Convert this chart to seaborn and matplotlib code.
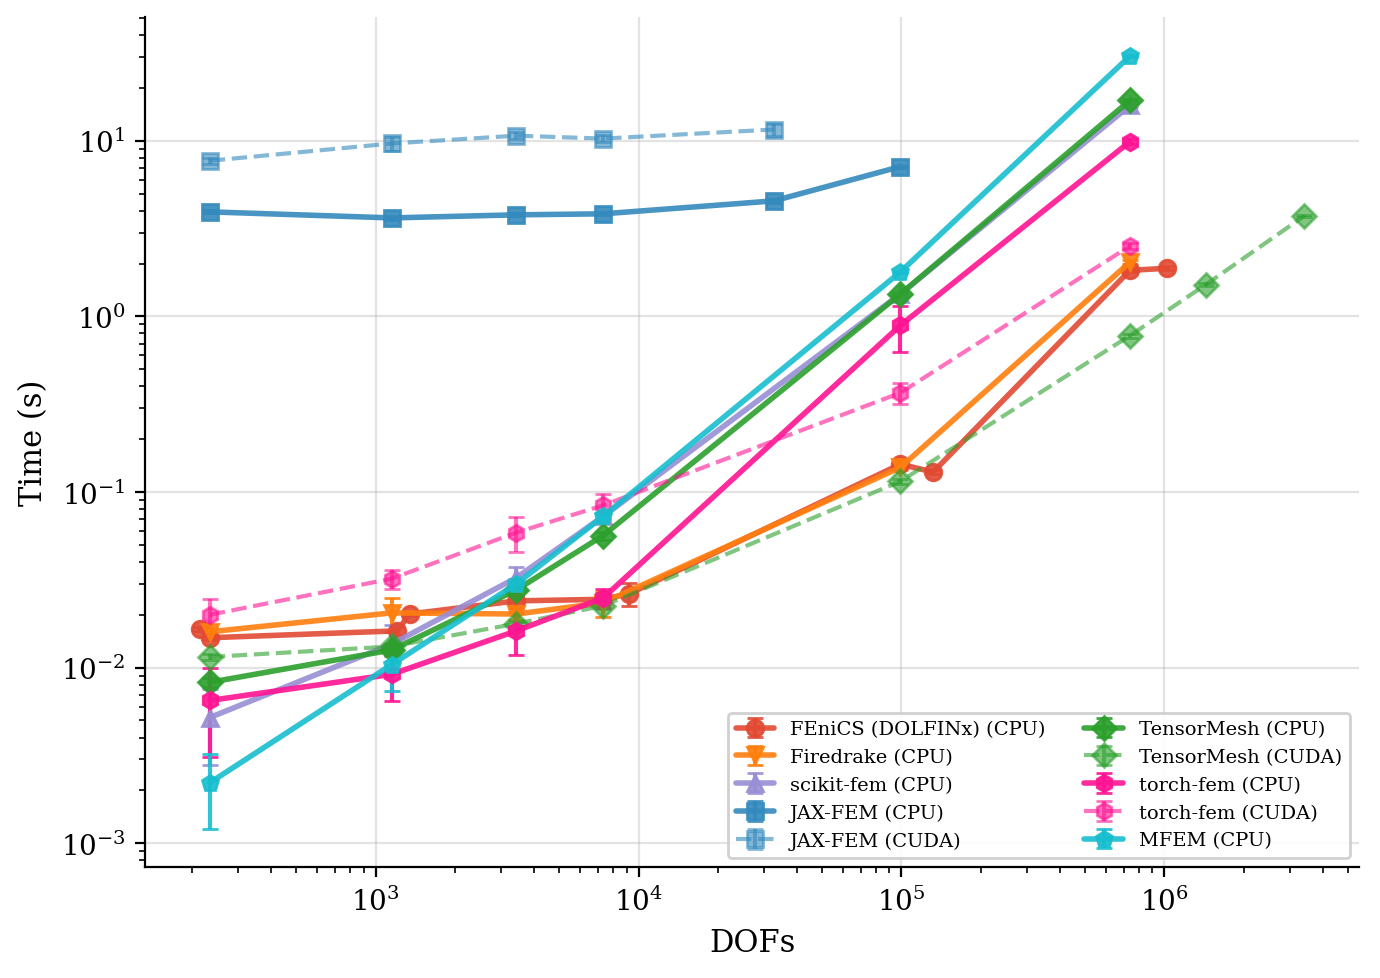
import numpy as np
import matplotlib
matplotlib.use('Agg')
import matplotlib.pyplot as plt
import seaborn as sns

# DOFs / timings
fenics_x = [215, 234, 1210, 1346, 3430, 7330, 9200, 99000, 132000, 740000, 1020000]
fenics_y = [0.0166, 0.0148, 0.0162, 0.0202, 0.0240, 0.0245, 0.0263, 0.144, 0.130, 1.83, 1.88]
fenics_e = [0.0005, 0.0005, 0.0008, 0.0005, 0.002, 0.002, 0.004, 0.006, 0.004, 0.05, 0.05]

common_x = [234, 1150, 3430, 7330, 99000, 740000]

firedrake_y = [0.0160, 0.0205, 0.0202, 0.0234, 0.138, 2.04]
firedrake_e = [0.0008, 0.0045, 0.0015, 0.004, 0.005, 0.05]

skfem_y = [0.0052, 0.0136, 0.0325, 0.0726, 1.34, 15.9]
skfem_e = [0.0024, 0.004, 0.005, 0.003, 0.03, 0.3]

jax_x = [234, 1150, 3430, 7330, 32700, 99000]
jax_cpu_y = [3.94, 3.64, 3.79, 3.84, 4.55, 7.13]
jax_cpu_e = [0.08, 0.08, 0.08, 0.08, 0.1, 0.1]
jax_cuda_x = [234, 1150, 3430, 7330, 32700]
jax_cuda_y = [7.7, 9.66, 10.7, 10.3, 11.6]
jax_cuda_e = [0.3, 0.9, 0.5, 0.5, 0.9]

tm_cpu_y = [0.00825, 0.0126, 0.0277, 0.0565, 1.34, 17.0]
tm_cpu_e = [0.0005, 0.001, 0.002, 0.003, 0.02, 0.2]
tm_cuda_x = [234, 1150, 3430, 7330, 99000, 740000, 1440000, 3400000]
tm_cuda_y = [0.0115, 0.0132, 0.0178, 0.0225, 0.115, 0.778, 1.52, 3.73]
tm_cuda_e = [0.0005, 0.0005, 0.0005, 0.001, 0.004, 0.02, 0.03, 0.05]

torch_cpu_y = [0.0065, 0.00916, 0.0162, 0.0249, 0.888, 9.9]
torch_cpu_e = [0.0034, 0.0027, 0.0044, 0.003, 0.26, 0.3]
torch_cuda_y = [0.0200, 0.0321, 0.0588, 0.084, 0.367, 2.52]
torch_cuda_e = [0.0046, 0.004, 0.013, 0.013, 0.05, 0.1]

mfem_y = [0.00221, 0.0104, 0.030, 0.0726, 1.79, 30.4]
mfem_e = [0.001, 0.003, 0.002, 0.002, 0.03, 0.3]

sns.set_style('ticks')
plt.rcParams['font.family'] = ['DejaVu Serif']
plt.rcParams['mathtext.fontset'] = 'dejavuserif'
plt.rcParams['axes.edgecolor'] = 'black'
plt.rcParams['xtick.color'] = 'black'
plt.rcParams['ytick.color'] = 'black'
plt.rcParams['text.color'] = 'black'
plt.rcParams['axes.labelcolor'] = 'black'

fig, ax = plt.subplots(figsize=(6.9, 4.895), dpi=200)

series = [
    ('FEniCS (DOLFINx) (CPU)', fenics_x, fenics_y, fenics_e, '#E24A33', 'o', '-', 0.9),
    ('Firedrake (CPU)', common_x, firedrake_y, firedrake_e, '#ff7f0e', 'v', '-', 0.9),
    ('scikit-fem (CPU)', common_x, skfem_y, skfem_e, '#988ED5', '^', '-', 0.9),
    ('JAX-FEM (CPU)', jax_x, jax_cpu_y, jax_cpu_e, '#348ABD', 's', '-', 0.9),
    ('JAX-FEM (CUDA)', jax_cuda_x, jax_cuda_y, jax_cuda_e, '#348ABD', 's', '--', 0.6),
    ('TensorMesh (CPU)', common_x, tm_cpu_y, tm_cpu_e, '#2ca02c', 'D', '-', 0.9),
    ('TensorMesh (CUDA)', tm_cuda_x, tm_cuda_y, tm_cuda_e, '#2ca02c', 'D', '--', 0.6),
    ('torch-fem (CPU)', common_x, torch_cpu_y, torch_cpu_e, '#ff1493', 'h', '-', 0.9),
    ('torch-fem (CUDA)', common_x, torch_cuda_y, torch_cuda_e, '#ff1493', 'h', '--', 0.6),
    ('MFEM (CPU)', common_x, mfem_y, mfem_e, '#17becf', 'p', '-', 0.9),
]

for label, x, y, e, c, m, ls, a in series:
    ax.errorbar(x, y, yerr=e, label=label, color=c, marker=m, linestyle=ls,
                linewidth=2 if ls == '-' else 1.5, markersize=6, capsize=3,
                elinewidth=1.5, alpha=a)

ax.set_xscale('log')
ax.set_yscale('log')
ax.set_xlabel('DOFs', fontsize=11)
ax.set_ylabel('Time (s)', fontsize=11)
ax.tick_params(labelsize=10)
ax.grid(True, which='major', color='#b0b0b0', alpha=0.35)
ax.legend(ncol=2, fontsize=7, loc='lower right', framealpha=0.9)
sns.despine(ax=ax)

fig.subplots_adjust(left=0.105, right=0.985, bottom=0.113, top=0.982)
fig.savefig('out.png', dpi=200)
